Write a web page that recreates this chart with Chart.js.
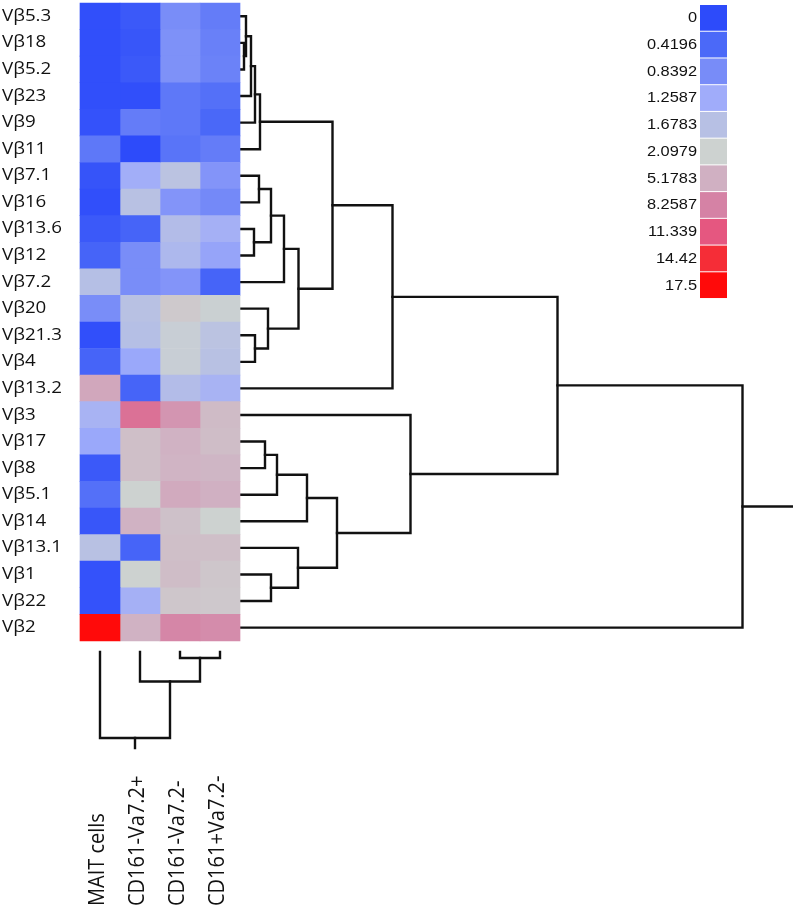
<!DOCTYPE html>
<html lang="en">
<head>
<meta charset="UTF-8">
<title>V beta usage heatmap</title>
<script src="https://cdn.jsdelivr.net/npm/chart.js@4.4.0/dist/chart.umd.min.js"></script>
<style>
  body { margin: 0; background: #fff; }
  #wrap { width: 793px; height: 907px; position: relative; }
</style>
</head>
<body>
<div id="wrap"><canvas id="heat"></canvas></div>
<script>
// rows / columns of the heatmap
var rowNames = ["Vβ5.3", "Vβ18", "Vβ5.2", "Vβ23", "Vβ9", "Vβ11", "Vβ7.1", "Vβ16", "Vβ13.6", "Vβ12",
                "Vβ7.2", "Vβ20", "Vβ21.3", "Vβ4", "Vβ13.2", "Vβ3", "Vβ17", "Vβ8", "Vβ5.1", "Vβ14",
                "Vβ13.1", "Vβ1", "Vβ22", "Vβ2"];
var colNames = ["MAIT cells", "CD161-Va7.2+", "CD161-Va7.2-", "CD161+Va7.2-"];

// cell values, one row per V beta, columns in colNames order
var values = [
  [0.05, 0.2, 0.85, 0.65],
  [0.05, 0.15, 0.9, 0.7],
  [0.05, 0.2, 0.9, 0.72],
  [0.05, 0.05, 0.6, 0.5],
  [0.1, 0.65, 0.6, 0.4],
  [0.6, 0.0, 0.55, 0.65],
  [0.12, 1.3, 1.75, 0.95],
  [0.05, 1.7, 0.95, 0.8],
  [0.2, 0.35, 1.6, 1.35],
  [0.35, 0.85, 1.5, 1.15],
  [1.65, 0.85, 0.95, 0.35],
  [0.85, 1.7, 2.9, 2.05],
  [0.05, 1.65, 2.0, 1.75],
  [0.35, 1.2, 2.0, 1.7],
  [5.8, 0.35, 1.6, 1.4],
  [1.4, 9.5, 7.0, 4.2],
  [1.2, 3.8, 5.0, 4.0],
  [0.2, 3.8, 4.8, 4.6],
  [0.5, 2.1, 5.6, 5.2],
  [0.15, 5.0, 3.6, 2.1],
  [1.7, 0.35, 3.8, 3.8],
  [0.1, 2.1, 4.0, 3.2],
  [0.1, 1.35, 3.2, 3.0],
  [17.5, 5.0, 8.0, 7.6]
];

// colour key
var legendStops = [0, 0.4196, 0.8392, 1.2587, 1.6783, 2.0979, 5.1783, 8.2587, 11.339, 14.42, 17.5];
var legendLabels = ["0", "0.4196", "0.8392", "1.2587", "1.6783", "2.0979", "5.1783", "8.2587", "11.339", "14.42", "17.5"];
var legendColors = ["#2d4bfa", "#4b69f8", "#788cf8", "#a0acfa", "#b7c0e4", "#cdd2d0",
                    "#d0b0c2", "#d582a5", "#e55780", "#f52d37", "#ff0a0a"];

// dendrograms: [left, right, height]; leaves are 0..n-1, merge k makes node n+k
var rowMerges = [
  [1, 2, 0.6], [0, 24, 1.0], [25, 3, 2.0], [26, 4, 2.8], [27, 5, 3.8],
  [6, 7, 3.6], [8, 9, 2.6], [29, 30, 6.0], [31, 10, 8.6], [12, 13, 2.8],
  [11, 33, 5.4], [32, 34, 11.5], [28, 35, 18.3], [36, 14, 30.3], [16, 17, 4.8],
  [38, 18, 7.2], [39, 19, 13.2], [21, 22, 6.0], [20, 41, 11.4], [40, 42, 19.2],
  [15, 43, 33.9], [37, 44, 63.3], [45, 23, 100.3]
];
var colMerges = [[2, 3, 1.2], [1, 4, 5.9], [0, 5, 17.2]];

function hexRgb(h) {
  return [parseInt(h.substr(1, 2), 16), parseInt(h.substr(3, 2), 16), parseInt(h.substr(5, 2), 16)];
}
function colorFor(v) {
  for (var i = 0; i < legendStops.length - 1; i++) {
    if (v <= legendStops[i + 1]) {
      var t = (v - legendStops[i]) / (legendStops[i + 1] - legendStops[i]);
      var a = hexRgb(legendColors[i]), b = hexRgb(legendColors[i + 1]);
      return "rgb(" + [0, 1, 2].map(function (k) { return Math.round(a[k] + (b[k] - a[k]) * t); }).join(",") + ")";
    }
  }
  return legendColors[legendColors.length - 1];
}

function dendroLinks(merges, n) {
  var pos = [], hgt = [], links = [];
  for (var i = 0; i < n; i++) { pos[i] = i; hgt[i] = 0; }
  merges.forEach(function (m, k) {
    var a = m[0], b = m[1], h = m[2];
    links.push([[hgt[a], pos[a]], [h, pos[a]], [h, pos[b]], [hgt[b], pos[b]]]);
    pos[n + k] = (pos[a] + pos[b]) / 2;
    hgt[n + k] = h;
  });
  var last = n + merges.length - 1;
  return { links: links, rootH: hgt[last], rootPos: pos[last] };
}

var datasets = [];

colNames.forEach(function (name, c) {
  datasets.push({
    type: 'bar', label: name, indexAxis: 'y', xAxisID: 'x', yAxisID: 'y',
    data: rowNames.map(function (r, i) { return { y: i, x: [c, c + 1] }; }),
    backgroundColor: values.map(function (row) { return colorFor(row[c]); }),
    borderWidth: 0, grouped: false, barPercentage: 1, categoryPercentage: 1
  });
});

var lineStyle = { type: 'line', borderColor: '#111', borderWidth: 2.4, pointRadius: 0,
                  fill: false, tension: 0, borderCapStyle: 'square', borderJoinStyle: 'miter' };

var rd = dendroLinks(rowMerges, rowNames.length);
rd.links.forEach(function (l) {
  datasets.push(Object.assign({ xAxisID: 'dx', yAxisID: 'y',
    data: l.map(function (p) { return { x: p[0], y: p[1] }; }) }, lineStyle));
});
datasets.push(Object.assign({ xAxisID: 'dx', yAxisID: 'y',
  data: [{ x: rd.rootH, y: rd.rootPos }, { x: 115, y: rd.rootPos }] }, lineStyle));

var cd = dendroLinks(colMerges, colNames.length);
cd.links.forEach(function (l) {
  datasets.push(Object.assign({ xAxisID: 'x', yAxisID: 'dy',
    data: l.map(function (p) { return { x: p[1] + 0.5, y: p[0] }; }) }, lineStyle));
});
datasets.push(Object.assign({ xAxisID: 'x', yAxisID: 'dy',
  data: [{ x: cd.rootPos + 0.5, y: cd.rootH }, { x: cd.rootPos + 0.5, y: cd.rootH + 2 }] }, lineStyle));

// text + colour key
var labelPlugin = {
  id: 'labels',
  afterDraw: function (chart) {
    var ctx = chart.ctx, sx = chart.scales.x, sy = chart.scales.y;
    ctx.save();
    ctx.fillStyle = '#111';
    ctx.textBaseline = 'middle';
    ctx.font = "16px 'Open Sans'";
    rowNames.forEach(function (name, i) {
      ctx.save();
      ctx.translate(2, sy.getPixelForValue(i));
      ctx.scale(1.17, 1);
      ctx.textAlign = 'left';
      ctx.fillText(name, 0, 0);
      ctx.restore();
    });
    ctx.font = "20px 'Open Sans'";
    colNames.forEach(function (name, c) {
      ctx.save();
      ctx.translate(sx.getPixelForValue(c + 0.5) - 2, 906);
      ctx.scale(1.1, 1);
      ctx.rotate(-Math.PI / 2);
      ctx.textAlign = 'left';
      ctx.fillText(name, 0, 0);
      ctx.restore();
    });
    var bx = 700, bw = 27, by = 5, bh = 26.73;
    ctx.font = "14px 'Liberation Sans'";
    legendLabels.forEach(function (lab, i) {
      ctx.fillStyle = legendColors[i];
      ctx.fillRect(bx, by + i * bh, bw, bh - 1);
      ctx.fillStyle = '#111';
      ctx.save();
      ctx.translate(bx - 3, by + i * bh + bh / 2);
      ctx.scale(1.17, 1);
      ctx.textAlign = 'right';
      ctx.fillText(lab, 0, 0);
      ctx.restore();
    });
    ctx.restore();
  }
};

new Chart(document.getElementById('heat'), {
  type: 'bar',
  data: { datasets: datasets },
  options: {
    responsive: true,
    maintainAspectRatio: false,
    animation: false,
    layout: { padding: 0 },
    plugins: { legend: { display: false }, tooltip: { enabled: false } },
    scales: {
      x: { type: 'linear', min: -2, max: 17.825, display: false, offset: false,
           ticks: { includeBounds: false, stepSize: 1 } },
      y: { type: 'linear', reverse: true, min: -0.613, max: 33.511, display: false, offset: false,
           ticks: { includeBounds: false, stepSize: 1 } },
      dx: { type: 'linear', axis: 'x', min: -48.2, max: 110.4, display: false, offset: false },
      dy: { type: 'linear', axis: 'y', reverse: true, min: -130.4, max: 51, display: false, offset: false }
    }
  },
  plugins: [labelPlugin]
});
</script>
</body>
</html>
